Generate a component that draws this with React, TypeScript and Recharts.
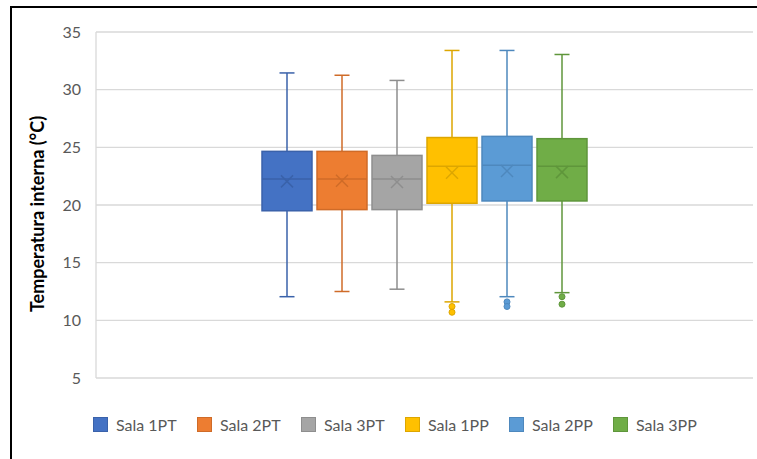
import * as React from "react"
import { BarChart, Bar, XAxis, YAxis, CartesianGrid, Legend, Label } from "recharts"

// one category, six rooms drawn as box plots
const rooms = ["Sala 1PT", "Sala 2PT", "Sala 3PT", "Sala 1PP", "Sala 2PP", "Sala 3PP"]
const fills = ["#4472C4", "#ED7D31", "#A5A5A5", "#FFC000", "#5B9BD5", "#70AD47"]
const edges = ["#3A62AA", "#CF6B28", "#8E8E8E", "#DDA600", "#4E88BD", "#5F963B"]

const whiskerHigh = [31.45, 31.25, 30.8, 33.4, 33.4, 33.05]
const q3 = [24.65, 24.65, 24.3, 25.85, 25.95, 25.75]
const median = [22.25, 22.25, 22.25, 23.35, 23.45, 23.35]
const mean = [22.05, 22.1, 22.0, 22.8, 22.95, 22.85]
const q1 = [19.5, 19.6, 19.6, 20.15, 20.35, 20.35]
const whiskerLow = [12.05, 12.5, 12.7, 11.6, 12.05, 12.4]
const outliers: number[][] = [[], [], [], [11.2, 10.7], [11.6, 11.2], [12.05, 11.4]]

const yTicks = [5, 10, 15, 20, 25, 30, 35]

const row: Record<string, any> = { name: "" }
rooms.forEach((r, i) => {
    row[r] = [whiskerLow[i], whiskerHigh[i]]
})
const data = [row]

const font = "Lato, 'Liberation Sans', sans-serif"

function boxShape(i: number) {
    return (props: any) => {
        const { x, y, width, height } = props
        const lo = whiskerLow[i]
        const hi = whiskerHigh[i]
        const py = (v: number) => y + ((hi - v) / (hi - lo)) * height
        const cx = x + width / 2
        const stroke = edges[i]
        const cap = 7.5
        const mx = 6
        const my = py(mean[i])
        return (
            <g>
                <line x1={cx} x2={cx} y1={py(hi)} y2={py(q3[i])} stroke={stroke} strokeWidth={1.5} />
                <line x1={cx} x2={cx} y1={py(q1[i])} y2={py(lo)} stroke={stroke} strokeWidth={1.5} />
                <line x1={cx - cap} x2={cx + cap} y1={py(hi)} y2={py(hi)} stroke={stroke} strokeWidth={1.5} />
                <line x1={cx - cap} x2={cx + cap} y1={py(lo)} y2={py(lo)} stroke={stroke} strokeWidth={1.5} />
                <rect
                    x={x}
                    y={py(q3[i])}
                    width={width}
                    height={py(q1[i]) - py(q3[i])}
                    fill={fills[i]}
                    stroke={stroke}
                    strokeWidth={1.5}
                />
                <line x1={x} x2={x + width} y1={py(median[i])} y2={py(median[i])} stroke={stroke} strokeWidth={1.5} />
                <line x1={cx - mx} x2={cx + mx} y1={my - mx} y2={my + mx} stroke={stroke} strokeWidth={1.5} />
                <line x1={cx - mx} x2={cx + mx} y1={my + mx} y2={my - mx} stroke={stroke} strokeWidth={1.5} />
                {outliers[i].map((v, k) => (
                    <circle key={k} cx={cx} cy={py(v)} r={3} fill={fills[i]} stroke={stroke} strokeWidth={1} />
                ))}
            </g>
        )
    }
}

const legendContent = () => (
    <div style={{ display: "flex", height: 18, fontFamily: font, fontSize: 16, color: "#595959" }}>
        {rooms.map((r, i) => (
            <div key={r} style={{ width: 104, display: "flex", alignItems: "center" }}>
                <span
                    style={{
                        display: "inline-block",
                        width: 15,
                        height: 15,
                        background: fills[i],
                        border: `1px solid ${edges[i]}`,
                        boxSizing: "border-box",
                        marginRight: 8,
                    }}
                />
                <span>{r}</span>
            </div>
        ))}
    </div>
)

const yTitle = () => (
    <text
        x={37}
        y={214}
        transform="rotate(-90 37 214)"
        textAnchor="middle"
        dominantBaseline="central"
        fontFamily={font}
        fontSize={18}
        fontWeight="bold"
        fill="#000"
    >
        Temperatura interna (°C)
    </text>
)

export default function App() {
    return (
        <div style={{ position: "absolute", left: 0, top: 0, width: 757, height: 459, background: "#fff" }}>
            <div
                style={{
                    position: "absolute",
                    left: 10,
                    top: 6,
                    width: 747,
                    height: 453,
                    borderTop: "2px solid #000",
                    borderLeft: "2px solid #000",
                    boxSizing: "border-box",
                }}
            />
            <BarChart
                width={757}
                height={459}
                data={data}
                margin={{ top: 32, right: 4, bottom: 63, left: 0 }}
                barSize={50}
                barGap={5}
            >
                <CartesianGrid vertical={false} stroke="#D9D9D9" strokeWidth={1.3} />
                <XAxis dataKey="name" hide />
                <YAxis
                    width={96}
                    domain={[5, 35]}
                    ticks={yTicks}
                    axisLine={{ stroke: "#D9D9D9", strokeWidth: 1.3 }}
                    tickLine={false}
                    tickMargin={9}
                    tick={{ fill: "#595959", fontSize: 16, fontFamily: font }}
                >
                    <Label content={yTitle} />
                </YAxis>
                {rooms.map((r, i) => (
                    <Bar key={r} dataKey={r} name={r} shape={boxShape(i)} isAnimationActive={false} />
                ))}
                <Legend
                    verticalAlign="bottom"
                    content={legendContent}
                    wrapperStyle={{ top: 415, left: 93, bottom: "auto", width: 660 }}
                />
            </BarChart>
        </div>
    )
}
